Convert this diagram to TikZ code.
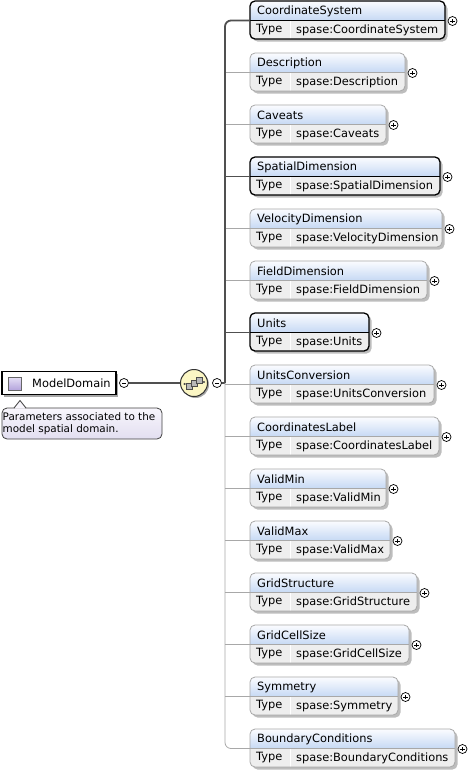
\documentclass[tikz,border=0pt]{standalone}
\usepackage{fontspec}
\setmainfont{DejaVu Sans}
\usetikzlibrary{positioning,shadows}
\definecolor{hdtop}{HTML}{FBFCFF}
\definecolor{hdbot}{HTML}{C6D9F4}
\definecolor{typefill}{HTML}{EEEEEE}
\definecolor{optline}{HTML}{A8A8A8}
\definecolor{mandline}{HTML}{505050}
\definecolor{shadowc}{HTML}{BDBDBD}
\definecolor{seqfill}{HTML}{FBF6C4}
\definecolor{notetop}{HTML}{F8F6FC}
\definecolor{notebot}{HTML}{E2DEF0}
\definecolor{icontop}{HTML}{E6E0F6}
\definecolor{iconbot}{HTML}{B4A4DC}
\tikzset{
  lbl/.style={anchor=west,inner sep=0pt,font=\fontsize{11.4}{13}\selectfont},
  pm/.style={circle,draw=black,fill=white,line width=0.7pt,minimum size=9pt,inner sep=0pt},
  minusnode/.style={pm,path picture={\draw[line width=0.8pt]
    ([xshift=-2.2pt]path picture bounding box.center) -- ([xshift=2.2pt]path picture bounding box.center);}},
  plusnode/.style={pm,path picture={\draw[line width=0.8pt]
    ([xshift=-2.2pt]path picture bounding box.center) -- ([xshift=2.2pt]path picture bounding box.center)
    ([yshift=-2.2pt]path picture bounding box.center) -- ([yshift=2.2pt]path picture bounding box.center);}},
  mand/.style={draw=black,line width=1.3pt},
  opt/.style={draw=optline,line width=0.8pt},
  mandconn/.style={draw=mandline,line width=1.8pt},
  optconn/.style={draw=optline,line width=0.8pt},
}
\begin{document}
\begin{tikzpicture}[x=1pt,y=-1pt]
\useasboundingbox (0,0) rectangle (471,772);
% the element ModelDomain and its note
\node[draw=black,line width=1.2pt,fill=white,minimum width=114pt,minimum height=23pt,inner sep=0pt,
  drop shadow={shadow xshift=2pt,shadow yshift=-2pt,fill=gray!70,opacity=1}] (md) at (59,383) {};
\shade[top color=icontop,bottom color=iconbot,draw=black!60] (8,377) rectangle (21,390);
\node[lbl] (mdname) at (32,383) {ModelDomain};
\node[minusnode] (mdm) at (124,383) {};
\shade[top color=notetop,bottom color=notebot,draw=black!75,line width=0.8pt,rounded corners=5pt] (2,408) rectangle (162,439);
\fill[notetop] (14.5,408.6) -- (20,401) -- (25.5,408.6) -- cycle;
\draw[black!75,line width=0.8pt] (14,408) -- (20,400.5) -- (26,408);
\node[lbl,anchor=north west,align=left,font=\fontsize{10.4}{12}\selectfont] (note) at (2.5,412)
  {Parameters associated to the\\model spatial domain.};
% the sequence
\node[circle,draw=black!80,line width=1pt,fill=seqfill,minimum size=27pt,inner sep=0pt,
  drop shadow={shadow xshift=1.5pt,shadow yshift=-1.5pt,fill=gray!70,opacity=1}] (seq) at (194,383) {};
\draw[black!70,line width=0.7pt] (184.5,384) -- (204,382);
\fill[black!70] (184.5,384) circle (1.1) (204,382) circle (1.1);
\draw[fill=gray!55,draw=black!70,line width=0.6pt] (186,383) rectangle (192,389);
\draw[fill=gray!55,draw=black!70,line width=0.6pt] (191,380) rectangle (197,386);
\draw[fill=gray!55,draw=black!70,line width=0.6pt] (196,377) rectangle (202,383);
\node[minusnode] (sqm) at (217,383) {};
\coordinate (bj) at (225,383);
\draw[mandconn] (mdm) -- (seq);
\draw[mandconn] (sqm) -- (bj);
% the children
\foreach \nm/\rx/\st [count=\i from 0] in {CoordinateSystem/445/mand,Description/405/opt,
  Caveats/386/opt,SpatialDimension/440/mand,VelocityDimension/442/opt,FieldDimension/427/opt,
  Units/369/mand,UnitsConversion/434/opt,CoordinatesLabel/439/opt,ValidMin/386/opt,
  ValidMax/390/opt,GridStructure/417/opt,GridCellSize/409/opt,Symmetry/398/opt,
  BoundaryConditions/455/opt}{
  \pgfmathsetmacro\ty{1+52*\i}
  \fill[shadowc,rounded corners=5pt] (252.5,\ty+2.5) rectangle (\rx+2.5,\ty+40.5);
  \begin{scope}
    \clip[rounded corners=5pt] (250,\ty) rectangle (\rx,\ty+38);
    \fill[typefill] (250,\ty) rectangle (\rx,\ty+38);
    \shade[top color=hdtop,bottom color=hdbot] (250,\ty) rectangle (\rx,\ty+19.5);
    \draw[white,line width=1.2pt] (290.5,\ty+19.5) -- (290.5,\ty+38);
  \end{scope}
  \draw[\st,line width=0.6pt] (250,\ty+19.5) -- (\rx,\ty+19.5);
  \draw[\st,rounded corners=5pt] (250,\ty) rectangle (\rx,\ty+38);
  \node[lbl] (n\i) at (257,\ty+10) {\nm};
  \node[lbl] (t\i) at (256,\ty+29) {Type};
  \node[lbl] (s\i) at (296,\ty+29) {spase:\nm};
  \node[plusnode] (p\i) at (\rx+7.5,\ty+20) {};
  \coordinate (e\i) at (250,\ty+19.5);
  \coordinate (b\i) at (225,\ty+19.5);
  \ifnum\i>0 \ifnum\i<14
    \draw[\st conn] (b\i) -- (e\i);
  \fi\fi
}
\draw[mandconn,rounded corners=6pt] (e0) -| (bj);
\draw[optconn,rounded corners=6pt] (bj) |- (e14);
\end{tikzpicture}
\end{document}
